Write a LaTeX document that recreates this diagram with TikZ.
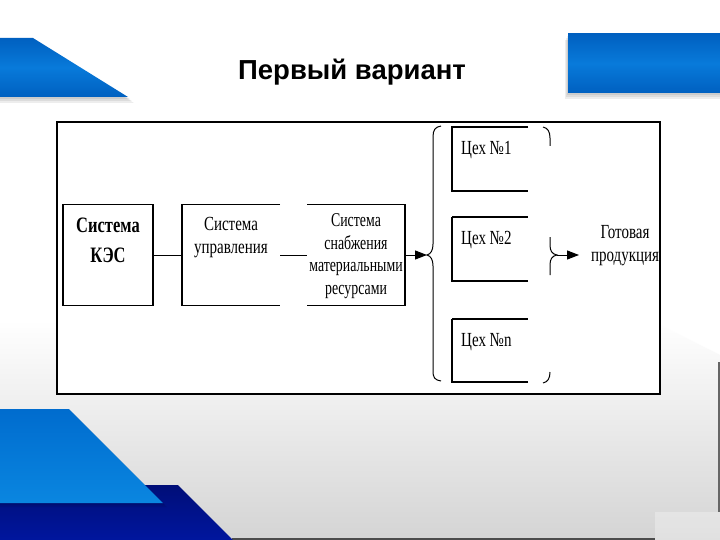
\documentclass[tikz,border=0pt]{standalone}
\usepackage{fontspec}
\setmainfont{Liberation Serif}
\newfontfamily\titlefont{Liberation Sans}
\newfontfamily\condfont[FakeStretch=0.75]{Liberation Serif}
\newfontfamily\narrowfont[FakeStretch=0.71]{Liberation Serif}
\usetikzlibrary{arrows.meta}
\definecolor{bluetop}{RGB}{0,96,192}
\definecolor{bluemid}{RGB}{8,122,218}
\definecolor{lightblue}{RGB}{10,134,224}
\definecolor{lightbluetop}{RGB}{0,108,206}
\definecolor{darkblue}{RGB}{0,22,158}
\definecolor{darkbluetop}{RGB}{0,14,120}
\definecolor{bggray}{RGB}{212,212,212}
\begin{document}
\begin{tikzpicture}[x=1pt,y=-1pt,
  box/.style={inner sep=0pt, outer sep=0pt, line width=1.1pt},
  edge/.style={line width=1.1pt},
  lbl/.style={font=\condfont\fontsize{20}{23}\selectfont, align=center, inner sep=0pt},
  snablbl/.style={font=\narrowfont\fontsize{19.5}{22.5}\selectfont, align=center, inner sep=0pt},
  kesfont/.style={font=\condfont\bfseries\fontsize{22}{30}\selectfont, align=center, inner sep=0pt},
  conn/.style={line width=1pt},
  arr/.style={line width=1pt, -{Triangle[length=12pt,width=9pt]}},
  brace/.style={line width=1pt},
  shadow/.style={fill=black, opacity=0.07}
]
\useasboundingbox (0,0) rectangle (720,540);
% background
\fill[white] (0,0) rectangle (720,540);
\shade[top color=white, bottom color=bggray] (0,320) -- (650,320) -- (720,355) -- (720,540) -- (0,540) -- cycle;
\fill[white, opacity=0.3] (655,512) rectangle (720,540);
\draw[line width=2pt, black!70] (232,538.5) -- (655,538.5);
\draw[line width=2pt, black!60] (719,362) -- (719,512);
% top-left blue shape
\foreach \d in {2,4,6}{\fill[shadow] (0,38+\d) -- (33+\d,38+\d) -- (128+\d,97+\d) -- (0,97+\d) -- cycle;}
\shade[top color=bluetop, bottom color=bluetop, middle color=bluemid] (0,38) -- (33,38) -- (128,97) -- (0,97) -- cycle;
% top-right blue rectangle
\foreach \d in {2,4,6}{\fill[shadow] (568-\d/2,34+\d) rectangle (720,93+\d);}
\shade[top color=bluetop, bottom color=bluetop, middle color=bluemid] (568,34) rectangle (720,93);
% bottom-left blue shapes
\shade[top color=darkbluetop, bottom color=darkblue] (0,485) -- (178,485) -- (233,540) -- (0,540) -- cycle;
\foreach \d in {2,4}{\fill[shadow] (0,409+\d) -- (69+\d,409+\d) -- (163+\d,503+\d) -- (0,503+\d) -- cycle;}
\shade[top color=lightbluetop, bottom color=lightblue] (0,409) -- (69,409) -- (163,503) -- (0,503) -- cycle;
% title
\node[font=\titlefont\bfseries\fontsize{27.5}{30}\selectfont, anchor=base, inner sep=0pt] (title) at (352,80) {Первый вариант};
% frame
\node[draw, fill=white, line width=1.1pt, inner sep=0pt, minimum width=603pt, minimum height=272pt] (frame) at (358.5,258) {};
% boxes
\node[box, draw, minimum width=90pt, minimum height=101pt] (kes) at (108,255) {};
\node[box, minimum width=98pt, minimum height=101pt] (upr) at (231,255) {};
\draw[edge] (upr.north east) -- (upr.north west) -- (upr.south west) -- (upr.south east);
\node[box, minimum width=98pt, minimum height=101pt] (snab) at (356,255) {};
\draw[edge] (snab.north west) -- (snab.north east) -- (snab.south east) -- (snab.south west);
\node[box, minimum width=76pt, minimum height=64pt] (c1) at (490,159) {};
\draw[edge] (c1.north east) -- (c1.north west) -- (c1.south west) -- (c1.south east);
\node[box, minimum width=76pt, minimum height=64pt] (c2) at (490,249) {};
\draw[edge] (c2.south east) -- (c2.south west) -- (c2.north west);
\draw[line width=2.2pt] (c2.north west) -- (c2.north east);
\node[box, minimum width=76pt, minimum height=63pt] (cn) at (490,350.5) {};
\draw[edge] (cn.south east) -- (cn.south west) -- (cn.north west);
\draw[line width=2.2pt] (cn.north west) -- (cn.north east);
% texts (base anchor = baseline of last line)
\node[kesfont, anchor=base] (kest) at (108,262) {Система\\КЭС};
\node[lbl, anchor=base] (uprt) at (231,253) {Система\\управления};
\node[snablbl, anchor=base] (snabt) at (356,294) {Система\\снабжения\\материальными\\ресурсами};
\node[lbl, anchor=base west] (c1t) at (461,155) {Цех №1};
\node[lbl, anchor=base west] (c2t) at (461,244) {Цех №2};
\node[lbl, anchor=base west] (cnt) at (461,346) {Цех №n};
\node[lbl, anchor=base] (prod) at (625,261) {Готовая\\продукция};
% braces
\coordinate (lbt) at (427,255);
\coordinate (rbt) at (557,255);
\coordinate (pend) at (579,255);
\draw[brace] (441,126) .. controls (435,127) and (433,130) .. (433,137) -- (433,244) .. controls (433,250) and (431,254) .. (lbt) .. controls (431,256) and (433,260) .. (433,266) -- (433,371) .. controls (433,378) and (435,380) .. (441,381);
\draw[brace] (543,127) .. controls (548,128) and (550,132) .. (550,138) -- (550,146);
\draw[brace] (550,237) -- (550,245) .. controls (550,251) and (552,254) .. (rbt) .. controls (552,256) and (550,259) .. (550,265) -- (550,275);
\draw[brace] (550,372) .. controls (550,378) and (548,382) .. (543,383);
% connectors
\draw[conn] (kes.east) -- (upr.west);
\draw[conn] (upr.east) -- (snab.west);
\draw[arr] (snab.east) -- (lbt);
\draw[arr] (rbt) -- (pend);
\end{tikzpicture}
\end{document}
